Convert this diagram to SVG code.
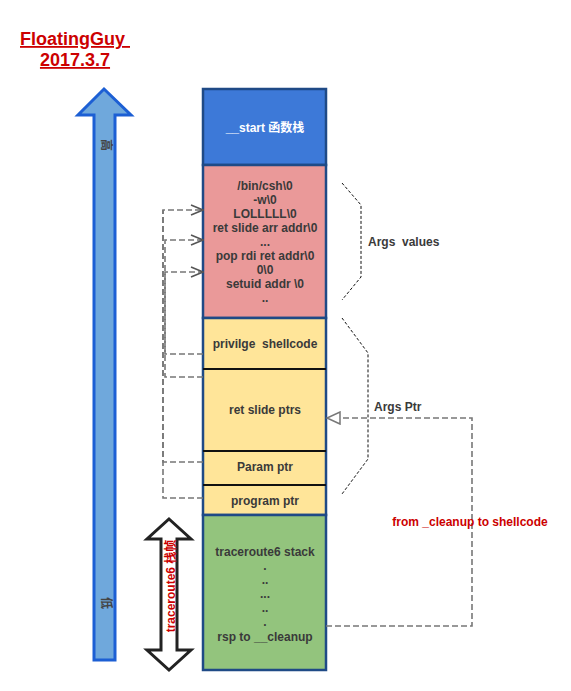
<svg xmlns="http://www.w3.org/2000/svg" width="571" height="691" viewBox="0 0 571 691">
<defs>
<style>
.t{font-family:"Liberation Sans","Noto Sans CJK SC",Arial,sans-serif;font-weight:bold;font-size:12px;fill:#3a3a3a;text-anchor:middle;white-space:pre}
.red{fill:#cc0000}
.box{stroke:#1f4a86;stroke-width:2.5}
.div{stroke:#111;stroke-width:2}
.dash{fill:none;stroke:#777;stroke-width:1.6;stroke-dasharray:6,3}
.brace{fill:none;stroke:#111;stroke-width:1;stroke-dasharray:3,2}
</style>
<marker id="chev" markerWidth="14" markerHeight="12" refX="13" refY="6" orient="auto" markerUnits="userSpaceOnUse">
<path d="M1,1 L13,6 L1,11" fill="none" stroke="#555" stroke-width="1.5"/>
</marker>
<marker id="tri" markerWidth="16" markerHeight="14" refX="14" refY="7" orient="auto" markerUnits="userSpaceOnUse">
<path d="M1,1 L14,7 L1,13 Z" fill="#fff" stroke="#777" stroke-width="1.5"/>
</marker>
</defs>
<rect width="571" height="691" fill="#fff"/>

<g id="title">
<text class="t red" x="75" y="45" xml:space="preserve" style="font-size:18px;text-decoration:underline">FloatingGuy </text>
<text class="t red" x="75" y="66" style="font-size:18px;text-decoration:underline">2017.3.7</text>
</g>

<g id="height-arrow">
<polygon points="104,89 131,115 115,115 115,660 94,660 94,115 78,115" fill="#6fa8dc" stroke="#1c5fd4" stroke-width="3"/>
<text class="t" transform="rotate(90 106 145)" x="106" y="145" dominant-baseline="central" style="font-size:12px;fill:#444">高</text>
<text class="t" transform="rotate(90 106 603)" x="106" y="603" dominant-baseline="central" style="font-size:12px;fill:#444">低</text>
</g>

<g id="frame-arrow">
<polygon points="169,519 191,539 177,539 177,650 191,650 169,670 147,650 161,650 161,539 147,539" fill="#fff" stroke="#222" stroke-width="3"/>
<text class="t red" transform="rotate(-90 171 586)" x="171" y="586" dominant-baseline="central">traceroute6 栈帧</text>
</g>

<g id="start">
<rect class="box" x="203" y="89" width="123" height="76" fill="#3d79d8"/>
<text class="t" x="265" y="132" style="fill:#fff">__start 函数栈</text>
</g>

<g id="args-values">
<rect class="box" x="203" y="165" width="123" height="153" fill="#ea9999"/>
<text class="t" x="265" y="190">/bin/csh\0</text>
<text class="t" x="265" y="204">-w\0</text>
<text class="t" x="265" y="218">LOLLLLL\0</text>
<text class="t" x="265" y="232">ret slide arr addr\0</text>
<text class="t" x="265" y="246">...</text>
<text class="t" x="265" y="260">pop rdi ret addr\0</text>
<text class="t" x="265" y="274">0\0</text>
<text class="t" x="265" y="288">setuid addr \0</text>
<text class="t" x="265" y="302">..</text>
</g>

<g id="args-ptr">
<rect class="box" x="203" y="318" width="123" height="197" fill="#ffe599"/>
<line class="div" x1="203" y1="369" x2="326" y2="369"/>
<line class="div" x1="203" y1="451" x2="326" y2="451"/>
<line class="div" x1="203" y1="485" x2="326" y2="485"/>
<text class="t" x="265" y="348" xml:space="preserve">privilge  shellcode</text>
<text class="t" x="265" y="414">ret slide ptrs</text>
<text class="t" x="265" y="471">Param ptr</text>
<text class="t" x="265" y="505">program ptr</text>
</g>

<g id="traceroute6-stack">
<rect class="box" x="203" y="515" width="123" height="155" fill="#93c47d"/>
<text class="t" x="265" y="556">traceroute6 stack</text>
<text class="t" x="265" y="570">.</text>
<text class="t" x="265" y="584">..</text>
<text class="t" x="265" y="598">...</text>
<text class="t" x="265" y="612">..</text>
<text class="t" x="265" y="626">.</text>
<text class="t" x="265" y="641">rsp to __cleanup</text>
</g>

<g id="braces">
<path class="brace" d="M342,183 L361,205 L361,277 L342,300"/>
<path class="brace" d="M342,318 L368,353 L368,459 L342,494"/>
<text class="t" x="368" y="246" xml:space="preserve" style="text-anchor:start">Args  values</text>
<text class="t" x="374" y="411" style="text-anchor:start">Args Ptr</text>
</g>

<g id="connectors">
<path class="dash" d="M203,498 L163,498 L163,210 L203,210" marker-end="url(#chev)"/>
<path class="dash" d="M203,462 L163,462 L163,210"/>
<path class="dash" d="M203,377 L165,377 L165,240 L203,240" marker-end="url(#chev)"/>
<path class="dash" d="M203,354 L165,354 L165,272 L203,272" marker-end="url(#chev)"/>
<path class="dash" d="M326,626 L472,626 L472,418 L327,418" marker-end="url(#tri)"/>
<text class="t red" x="470" y="526">from _cleanup to shellcode</text>
</g>
</svg>
